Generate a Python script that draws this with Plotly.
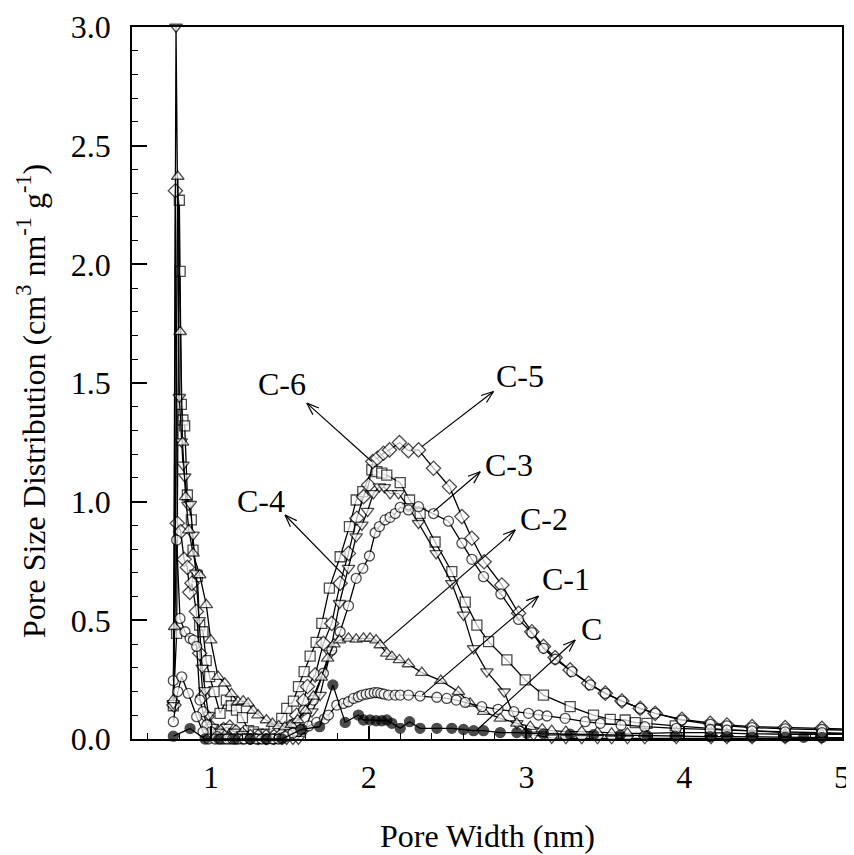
import math
import plotly.graph_objects as go

# ---------------- data ----------------
x_C = [0.762, 0.868, 0.963, 1.05, 1.15, 1.25, 1.35, 1.45, 1.577, 1.689, 1.773, 1.851, 1.935, 1.967,
       2.009, 2.047, 2.083, 2.115, 2.147, 2.200, 2.259, 2.326, 2.432, 2.527, 2.601, 2.665, 2.728,
       2.834, 2.939, 3.003, 3.108, 3.277, 3.425, 3.594, 3.764, 3.943, 4.165, 4.271, 4.430, 4.640,
       4.757, 4.873, 5.0]
y_C = [0.012, 0.044, 0.0, 0.0, 0.0, 0.0, 0.0, 0.0, 0.041, 0.052, 0.228, 0.070, 0.101, 0.080,
       0.080, 0.077, 0.077, 0.080, 0.066, 0.045, 0.073, 0.045, 0.045, 0.045, 0.040, 0.035, 0.035,
       0.027, 0.027, 0.024, 0.022, 0.020, 0.018, 0.016, 0.014, 0.012, 0.010, 0.010, 0.008, 0.007,
       0.007, 0.006, 0.006]

x_C1 = [0.762, 0.790, 0.815, 0.857, 0.910, 0.950, 0.984, 1.026, 1.062, 1.100, 1.138, 1.174, 1.212,
        1.248, 1.286, 1.322, 1.358, 1.392, 1.428, 1.47, 1.52, 1.57, 1.62, 1.67, 1.72, 1.745, 1.798,
        1.840, 1.872, 1.904, 1.935, 1.957, 1.984, 2.009, 2.035, 2.056, 2.077, 2.098, 2.126, 2.168,
        2.200, 2.252, 2.326, 2.432, 2.495, 2.555, 2.612, 2.717, 2.82, 2.92, 3.013, 3.077, 3.130,
        3.245, 3.372, 3.468, 3.60, 3.75, 3.95, 4.165, 4.271, 4.430, 4.640, 4.873, 5.0]
y_C1 = [0.073, 0.200, 0.262, 0.192, 0.094, 0.030, 0.0, 0.0, 0.0, 0.0, 0.0, 0.0, 0.0,
        0.0, 0.0, 0.0, 0.0, 0.0, 0.0, 0.010, 0.025, 0.040, 0.055, 0.070, 0.085, 0.101, 0.143,
        0.150, 0.157, 0.171, 0.178, 0.185, 0.189, 0.192, 0.195, 0.195, 0.192, 0.189, 0.185, 0.185,
        0.185, 0.185, 0.181, 0.176, 0.171, 0.164, 0.154, 0.136, 0.125, 0.115, 0.108, 0.101, 0.097,
        0.087, 0.073, 0.066, 0.058, 0.052, 0.045, 0.040, 0.037, 0.034, 0.030, 0.027, 0.025]

x_C2 = [0.762, 0.770, 0.790, 0.805, 0.820, 0.840, 0.860, 0.887, 0.929, 0.971, 0.999, 1.045, 1.088,
        1.130, 1.172, 1.205, 1.236, 1.268, 1.299, 1.352, 1.39, 1.43, 1.47, 1.51, 1.55, 1.60, 1.65,
        1.70, 1.74, 1.78, 1.815, 1.872, 1.921, 1.967, 2.009, 2.047, 2.073, 2.115, 2.147, 2.195,
        2.252, 2.337, 2.457, 2.569, 2.643, 2.728, 2.834, 2.939, 3.024, 3.10, 3.16, 3.25, 3.35,
        3.45, 3.54, 3.64, 3.75, 3.95, 4.17, 4.27, 4.43, 4.64, 4.87, 5.0]
y_C2 = [0.165, 0.473, 2.37, 1.716, 1.25, 1.02, 0.88, 0.782, 0.691, 0.565, 0.417, 0.263, 0.235,
        0.190, 0.157, 0.160, 0.150, 0.120, 0.101, 0.080, 0.065, 0.055, 0.050, 0.060, 0.080, 0.120, 0.180,
        0.260, 0.340, 0.400, 0.417, 0.424, 0.420, 0.424, 0.424, 0.417, 0.396, 0.361, 0.347, 0.333,
        0.316, 0.280, 0.246, 0.199, 0.150, 0.115, 0.087, 0.066, 0.052, 0.042, 0.035, 0.031, 0.031,
        0.028, 0.024, 0.024, 0.024, 0.027, 0.027, 0.024, 0.022, 0.020, 0.020, 0.020]

x_C3 = [0.762, 0.783, 0.804, 0.836, 0.868, 0.889, 0.910, 0.931, 0.950, 0.975, 1.00, 1.04, 1.08,
        1.12, 1.16, 1.20, 1.25, 1.30, 1.35, 1.40, 1.45, 1.49, 1.534, 1.587, 1.650, 1.713, 1.766,
        1.819, 1.872, 1.921, 1.963, 2.005, 2.041, 2.068, 2.104, 2.136, 2.168, 2.200, 2.252, 2.316,
        2.411, 2.506, 2.591, 2.654, 2.728, 2.838, 2.950, 3.034, 3.108, 3.182, 3.288, 3.404, 3.500,
        3.605, 3.721, 3.816, 3.985, 4.165, 4.271, 4.430, 4.640, 4.873, 5.0]
y_C3 = [0.246, 0.838, 0.508, 0.452, 0.424, 0.417, 0.390, 0.164, 0.115, 0.060, 0.030, 0.010, 0.0,
        0.0, 0.0, 0.0, 0.0, 0.0, 0.0, 0.0, 0.005, 0.020, 0.066, 0.122, 0.164, 0.277, 0.375,
        0.452, 0.561, 0.677, 0.719, 0.771, 0.869, 0.895, 0.923, 0.934, 0.950, 0.976, 0.965, 0.979,
        0.950, 0.918, 0.825, 0.757, 0.684, 0.611, 0.504, 0.448, 0.382, 0.336, 0.284, 0.228, 0.192,
        0.160, 0.129, 0.108, 0.080, 0.062, 0.055, 0.048, 0.043, 0.040, 0.038]

x_C4 = [0.762, 0.779, 0.800, 0.812, 0.823, 0.834, 0.855, 0.870, 0.887, 0.905, 0.925, 0.945, 0.963,
        0.985, 1.01, 1.05, 1.10, 1.15, 1.20, 1.25, 1.30, 1.35, 1.40, 1.45, 1.48, 1.52, 1.555,
        1.597, 1.640, 1.692, 1.756, 1.815, 1.872, 1.921, 1.957, 1.993, 2.030, 2.068, 2.100, 2.136,
        2.189, 2.25, 2.316, 2.428, 2.527, 2.601, 2.665, 2.749, 2.859, 2.939, 3.045, 3.16, 3.25,
        3.35, 3.45, 3.54, 3.64, 3.75, 3.95, 4.17, 4.27, 4.43, 4.64, 4.87, 5.0]
y_C4 = [0.150, 3.0, 1.44, 1.253, 1.155, 1.105, 0.986, 0.990, 0.860, 0.700, 0.500, 0.300, 0.205,
        0.100, 0.050, 0.030, 0.050, 0.030, 0.020, 0.010, 0.0, 0.0, 0.0, 0.0, 0.0, 0.0, 0.0,
        0.040, 0.115, 0.185, 0.361, 0.572, 0.720, 0.853, 0.902, 0.960, 1.035, 1.063, 1.060, 1.035,
        1.035, 0.980, 0.909, 0.782, 0.656, 0.523, 0.382, 0.284, 0.199, 0.066, 0.017, 0.005, 0.003,
        0.003, 0.003, 0.003, 0.003, 0.003, 0.003, 0.003, 0.003, 0.003, 0.003, 0.003, 0.003]

x_C5 = [0.766, 0.775, 0.787, 0.809, 0.830, 0.851, 0.866, 0.880, 0.908, 0.929, 0.950, 0.975, 1.00,
        1.04, 1.08, 1.12, 1.16, 1.20, 1.25, 1.30, 1.35, 1.40, 1.45, 1.50, 1.544, 1.587, 1.612,
        1.661, 1.713, 1.766, 1.819, 1.872, 1.925, 1.967, 1.999, 2.026, 2.056, 2.094, 2.132, 2.195,
        2.252, 2.316, 2.411, 2.512, 2.591, 2.654, 2.732, 2.844, 2.950, 3.034, 3.108, 3.182, 3.277,
        3.394, 3.500, 3.605, 3.721, 3.816, 3.985, 4.165, 4.271, 4.430, 4.640, 4.873, 5.0]
y_C5 = [0.143, 2.31, 0.909, 0.874, 0.757, 0.723, 0.618, 0.656, 0.537, 0.361, 0.180, 0.094, 0.050,
        0.030, 0.040, 0.050, 0.030, 0.020, 0.010, 0.010, 0.010, 0.010, 0.020, 0.050, 0.100, 0.161, 0.221,
        0.270, 0.403, 0.487, 0.656, 0.782, 0.930, 1.021, 1.070, 1.169, 1.183, 1.204, 1.218, 1.249,
        1.215, 1.218, 1.141, 1.063, 0.937, 0.846, 0.747, 0.649, 0.530, 0.452, 0.390, 0.343, 0.291,
        0.235, 0.193, 0.160, 0.129, 0.108, 0.083, 0.066, 0.059, 0.052, 0.048, 0.045, 0.043]

x_C6 = [0.762, 0.783, 0.800, 0.805, 0.813, 0.823, 0.834, 0.851, 0.876, 0.887, 0.914, 0.929, 0.950,
        0.970, 0.992, 1.020, 1.058, 1.098, 1.130, 1.162, 1.200, 1.238, 1.27, 1.30, 1.35, 1.40,
        1.449, 1.481, 1.523, 1.555, 1.591, 1.629, 1.667, 1.703, 1.751, 1.819, 1.878, 1.921, 1.963,
        2.020, 2.052, 2.083, 2.115, 2.200, 2.259, 2.326, 2.421, 2.527, 2.612, 2.686, 2.760, 2.876,
        2.992, 3.108, 3.277, 3.425, 3.531, 3.626, 3.690, 3.764, 3.943, 4.165, 4.271, 4.430, 4.640,
        4.873, 5.0]
y_C6 = [0.140, 0.445, 2.27, 1.97, 1.41, 1.344, 1.319, 1.028, 0.923, 0.796, 0.684, 0.480, 0.452,
        0.330, 0.263, 0.200, 0.108, 0.164, 0.140, 0.122, 0.090, 0.035, 0.030, 0.020, 0.020, 0.040,
        0.087, 0.129, 0.160, 0.221, 0.284, 0.349, 0.407, 0.487, 0.636, 0.768, 0.895, 1.007, 1.042,
        1.134, 1.127, 1.120, 1.112, 1.080, 1.007, 0.951, 0.830, 0.705, 0.577, 0.480, 0.410, 0.333,
        0.249, 0.185, 0.136, 0.101, 0.083, 0.080, 0.069, 0.066, 0.055, 0.045, 0.038, 0.034, 0.027,
        0.024, 0.022]

series_names = ["C", "C-1", "C-2", "C-3", "C-4", "C-5", "C-6"]

# label positions (data coords): text position, arrow head, arrow tail
label_text_x = [3.411, 3.252, 3.113, 2.891, 1.318, 2.960, 1.451]
label_text_y = [0.464, 0.674, 0.927, 1.155, 1.003, 1.530, 1.496]
arrow_head_x = [3.309, 3.076, 2.929, 2.707, 1.470, 2.791, 1.608]
arrow_head_y = [0.417, 0.602, 0.881, 1.126, 0.944, 1.464, 1.415]
arrow_tail_x = [2.686, 2.339, 2.094, 2.411, 1.851, 2.337, 2.020]
arrow_tail_y = [0.038, 0.185, 0.403, 0.958, 0.684, 1.232, 1.169]

x_title = "Pore Width (nm)"
y_title = "Pore Size Distribution (cm<sup>3</sup> nm<sup>-1</sup> g<sup>-1</sup>)"

# ---------------- layout geometry ----------------
FONT = "Liberation Serif, Times New Roman, serif"
X_RANGE = [0.5, 5.0]
Y_RANGE = [0.0, 3.0]
# browser body margin (8px) is compensated by shrinking the figure
FIG_W, FIG_H = 846, 847
M_L, M_R, M_T, M_B = 124, 12, 19, 116
PLOT_W = FIG_W - M_L - M_R
PLOT_H = FIG_H - M_T - M_B
SX = PLOT_W / (X_RANGE[1] - X_RANGE[0])   # px per x unit
SY = PLOT_H / (Y_RANGE[1] - Y_RANGE[0])   # px per y unit

xs = [x_C, x_C1, x_C2, x_C3, x_C4, x_C5, x_C6]
ys = [y_C, y_C1, y_C2, y_C3, y_C4, y_C5, y_C6]
symbols = ["circle", "circle", "triangle-up", "circle", "triangle-down", "diamond", "square"]
fills = ["black", "white", "white", "white", "white", "white", "white"]
sizes = [10, 10, 11, 10, 11, 11, 10]

fig = go.Figure()
draw_order = [6, 5, 4, 3, 2, 1, 0]
for i in draw_order:
    n = len(xs[i])
    msize = [sizes[i]] * (n - 1) + [0]
    fig.add_trace(go.Scatter(
        x=xs[i], y=ys[i], mode="lines+markers", name=series_names[i],
        line=dict(color="black", width=1.3),
        marker=dict(symbol=symbols[i], size=msize, color=fills[i],
                    line=dict(color="black", width=1.3)),
        cliponaxis=False, showlegend=False))

shapes = []
HEAD_LEN = 13.0
HEAD_ANG = math.radians(20)
for k in range(len(series_names)):
    fig.add_annotation(x=label_text_x[k], y=label_text_y[k], xref="x", yref="y",
                       text=series_names[k], showarrow=False,
                       font=dict(family=FONT, size=32, color="black"),
                       xanchor="center", yanchor="middle")
    hx, hy = arrow_head_x[k], arrow_head_y[k]
    tx, ty = arrow_tail_x[k], arrow_tail_y[k]
    shapes.append(dict(type="line", xref="x", yref="y", x0=tx, y0=ty, x1=hx, y1=hy,
                       line=dict(color="black", width=1.2)))
    # open V arrow head, built in pixel space
    dx, dy = (hx - tx) * SX, (hy - ty) * SY
    d = math.hypot(dx, dy)
    ux, uy = dx / d, dy / d
    for s in (1, -1):
        c, sn = math.cos(s * HEAD_ANG), math.sin(s * HEAD_ANG)
        rx, ry = ux * c - uy * sn, ux * sn + uy * c
        shapes.append(dict(type="line", xref="x", yref="y",
                           x0=hx, y0=hy,
                           x1=hx - HEAD_LEN * rx / SX, y1=hy - HEAD_LEN * ry / SY,
                           line=dict(color="black", width=1.2)))

fig.add_annotation(x=0.5, y=-0.136, xref="paper", yref="paper", text=x_title,
                   showarrow=False, font=dict(family=FONT, size=32, color="black"),
                   xanchor="center", yanchor="middle")
fig.add_annotation(x=-0.142, y=0.475, xref="paper", yref="paper", text=y_title,
                   showarrow=False, textangle=-90,
                   font=dict(family=FONT, size=32, color="black"),
                   xanchor="center", yanchor="middle")

axis_common = dict(showline=True, linecolor="black", linewidth=1.5, mirror=True,
                   ticks="inside", tickcolor="black", tickwidth=1.5,
                   showgrid=False, zeroline=False, automargin=False,
                   tickfont=dict(family=FONT, size=32, color="black"))
fig.update_xaxes(range=X_RANGE, tick0=0, dtick=1, ticklen=13, ticklabelstandoff=9,
                 minor=dict(ticks="inside", ticklen=6, dtick=0.2, tick0=0,
                            tickcolor="black", tickwidth=1, showgrid=False),
                 **axis_common)
fig.update_yaxes(range=Y_RANGE, tick0=0, dtick=0.5, tickformat=".1f", ticklen=15,
                 ticklabelstandoff=13,
                 minor=dict(ticks="inside", ticklen=6, dtick=0.1, tick0=0,
                            tickcolor="black", tickwidth=1, showgrid=False),
                 **axis_common)

fig.update_layout(width=FIG_W, height=FIG_H,
                  margin=dict(l=M_L, r=M_R, t=M_T, b=M_B, autoexpand=False),
                  paper_bgcolor="white", plot_bgcolor="white",
                  font=dict(family=FONT, color="black"),
                  shapes=shapes)

fig.write_html("out.html")
